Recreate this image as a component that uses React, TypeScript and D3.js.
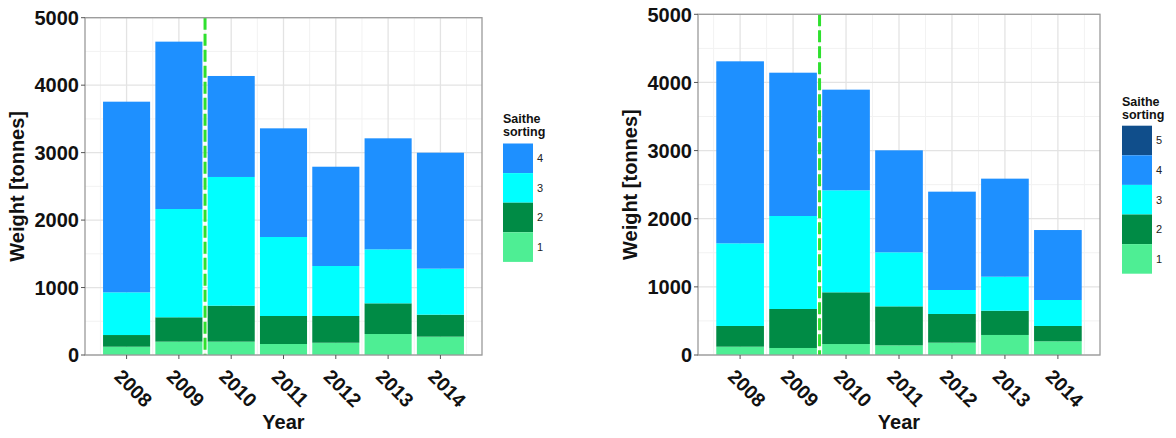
import React from "react";
import * as d3 from "d3";

const years = [2008, 2009, 2010, 2011, 2012, 2013, 2014];
const sortings = ["1", "2", "3", "4", "5"];

// left panel, tonnes per sorting class
const leftSort1 = [123, 198, 198, 163, 182, 311, 272];
const leftSort2 = [173, 361, 533, 415, 396, 455, 326];
const leftSort3 = [633, 1605, 1908, 1171, 741, 800, 682];
const leftSort4 = [2826, 2481, 1497, 1611, 1472, 1646, 1719];

// right panel
const rightSort1 = [122, 103, 161, 142, 181, 294, 201];
const rightSort2 = [304, 572, 759, 572, 421, 356, 225];
const rightSort3 = [1213, 1365, 1497, 793, 352, 499, 381];
const rightSort4 = [2671, 2103, 1477, 1497, 1443, 1439, 1027];
const rightSort5 = [0, 0, 0, 0, 0, 0, 0];

const yTicks = [0, 1000, 2000, 3000, 4000, 5000];
const cutYear = 2009.5;

const COLORS: Record<string, string> = {
  "1": "#4eee94",
  "2": "#008b45",
  "3": "#00ffff",
  "4": "#1e90ff",
  "5": "#104e8b",
};

const FONT = "'Liberation Sans', Arial, sans-serif";

interface PanelProps {
  left: number;
  right: number;
  top: number;
  bottom: number;
  series: number[][];
  keys: string[];
  legendX: number;
  legendTitleY: number;
  keysTop: number;
  yTitleX: number;
}

const Panel: React.FC<PanelProps> = (p) => {
  const x = d3.scaleLinear().domain([2007.205, 2014.795]).range([p.left, p.right]);
  const y = d3.scaleLinear().domain([0, 5000]).range([p.bottom, p.top]);
  const bw = x(2008.45) - x(2007.55);

  const rows = years.map((yr, i) => {
    const r: Record<string, number> = { year: yr };
    p.keys.forEach((k, j) => (r[k] = p.series[j][i]));
    return r;
  });
  const stacked = d3.stack<Record<string, number>>().keys(p.keys)(rows);

  const minorX = d3.range(2007.5, 2015, 1);
  const minorY = d3.range(500, 5000, 1000);
  const keyH = 29.6;
  const legendKeys = [...p.keys].reverse();
  const cx = (p.left + p.right) / 2;

  return (
    <g>
      {/* grid */}
      {minorX.map((v) => (
        <line key={"mx" + v} x1={x(v)} x2={x(v)} y1={p.top} y2={p.bottom} stroke="#f2f2f2" strokeWidth={1} />
      ))}
      {minorY.map((v) => (
        <line key={"my" + v} x1={p.left} x2={p.right} y1={y(v)} y2={y(v)} stroke="#f2f2f2" strokeWidth={1} />
      ))}
      {years.map((v) => (
        <line key={"gx" + v} x1={x(v)} x2={x(v)} y1={p.top} y2={p.bottom} stroke="#e3e3e3" strokeWidth={1.3} />
      ))}
      {yTicks.map((v) => (
        <line key={"gy" + v} x1={p.left} x2={p.right} y1={y(v)} y2={y(v)} stroke="#e3e3e3" strokeWidth={1.3} />
      ))}

      {/* bars */}
      {stacked.map((layer) => (
        <g key={layer.key} fill={COLORS[layer.key]}>
          {layer.map((d, i) =>
            d[1] - d[0] > 0 ? (
              <rect
                key={i}
                x={x(years[i]) - bw / 2}
                width={bw}
                y={y(d[1])}
                height={y(d[0]) - y(d[1])}
              />
            ) : null
          )}
        </g>
      ))}

      {/* cut line */}
      <line
        x1={x(cutYear)}
        x2={x(cutYear)}
        y1={p.top}
        y2={p.bottom}
        stroke="#2ee02e"
        strokeWidth={3}
        strokeDasharray="12,4"
      />

      <rect x={p.left} y={p.top} width={p.right - p.left} height={p.bottom - p.top} fill="none" stroke="#9a9a9a" strokeWidth={1.3} />

      {/* y axis */}
      {yTicks.map((v) => (
        <g key={"yt" + v}>
          <line x1={p.left - 4} x2={p.left} y1={y(v)} y2={y(v)} stroke="#555" strokeWidth={1} />
          <text x={p.left - 6} y={y(v)} dy="0.36em" textAnchor="end" fontSize={20} fontWeight="bold" fontFamily={FONT} fill="#111">
            {v}
          </text>
        </g>
      ))}
      <text
        transform={`translate(${p.yTitleX},${(p.top + p.bottom) / 2}) rotate(-90)`}
        textAnchor="middle"
        fontSize={20}
        fontWeight="bold"
        fontFamily={FONT}
        fill="#111"
      >
        Weight [tonnes]
      </text>

      {/* x axis */}
      {years.map((v) => (
        <g key={"xt" + v}>
          <line x1={x(v)} x2={x(v)} y1={p.bottom} y2={p.bottom + 4} stroke="#555" strokeWidth={1} />
          <text
            transform={`translate(${x(v) + 7},${p.bottom + 33}) rotate(45)`}
            textAnchor="middle"
            dy="0.36em"
            fontSize={19.5}
            fontWeight="bold"
            fontFamily={FONT}
            fill="#111"
          >
            {v}
          </text>
        </g>
      ))}
      <text x={cx} y={429} textAnchor="middle" fontSize={20} fontWeight="bold" fontFamily={FONT} fill="#111">
        Year
      </text>

      {/* legend */}
      <text x={p.legendX} y={p.legendTitleY} fontSize={12.5} fontWeight="bold" fontFamily={FONT} fill="#111">
        Saithe
      </text>
      <text x={p.legendX} y={p.legendTitleY + 13.5} fontSize={12.5} fontWeight="bold" fontFamily={FONT} fill="#111">
        sorting
      </text>
      {legendKeys.map((k, i) => (
        <g key={"lg" + k}>
          <rect x={p.legendX} y={p.keysTop + i * keyH} width={30} height={keyH} fill={COLORS[k]} />
          <text
            x={p.legendX + 34}
            y={p.keysTop + i * keyH + keyH / 2}
            dy="0.36em"
            fontSize={11}
            fontFamily={FONT}
            fill="#222"
          >
            {k}
          </text>
        </g>
      ))}
    </g>
  );
};

export default function App() {
  return (
    <svg
      width={1176}
      height={438}
      style={{ position: "absolute", left: 0, top: 0, background: "#fff" }}
    >
      <Panel
        left={85}
        right={482}
        top={17.7}
        bottom={355}
        series={[leftSort1, leftSort2, leftSort3, leftSort4]}
        keys={sortings.slice(0, 4)}
        legendX={503}
        legendTitleY={122.5}
        keysTop={143.5}
        yTitleX={24}
      />
      <Panel
        left={698}
        right={1100}
        top={14.3}
        bottom={355}
        series={[rightSort1, rightSort2, rightSort3, rightSort4, rightSort5]}
        keys={sortings}
        legendX={1122}
        legendTitleY={105.5}
        keysTop={125.7}
        yTitleX={637}
      />
    </svg>
  );
}
